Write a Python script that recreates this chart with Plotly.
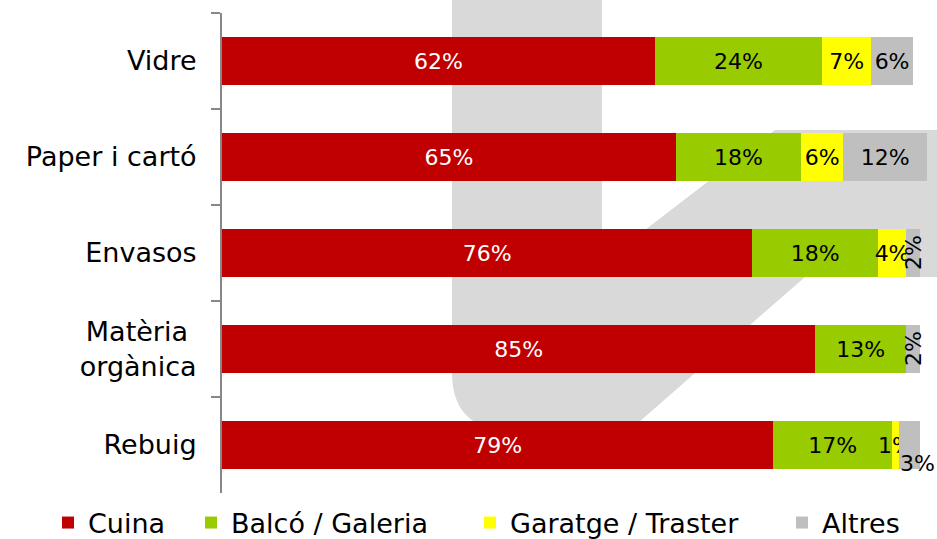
import plotly.graph_objects as go

categories = ["Vidre", "Paper i cartó", "Envasos", "Matèria <br>orgànica", "Rebuig"]
series_names = ["Cuina", "Balcó / Galeria", "Garatge / Traster", "Altres"]
cuina = [62, 65, 76, 85, 79]
balco = [24, 18, 18, 13, 17]
garatge = [7, 6, 4, 0, 1]
altres = [6, 12, 2, 2, 3]

colors = ["#C00000", "#99CC00", "#FFFF00", "#BFBFBF"]
text_colors = ["white", "black", "black", "black"]
series = [cuina, balco, garatge, altres]

FONT = "DejaVu Sans"

# Plot area in pixels
W, H = 937, 539
L, R, T, B = 222, 10, 13, 46
PW = W - L - R
PH = H - T - B

fig = go.Figure()

# labels that Excel moved/rotated are drawn as annotations
special = {(3, 2): "rot", (3, 3): "rot", (3, 4): "below"}

legend_ids = ["legend", "legend2", "legend3", "legend4"]
legend_text_x = [88, 231, 510, 822]  # left edge of legend text, px

for si, (name, vals) in enumerate(zip(series_names, series)):
    texts = []
    for ci, v in enumerate(vals):
        if v == 0 or (si, ci) in special:
            texts.append("")
        else:
            texts.append(f"{v}%")
    fig.add_trace(go.Bar(
        y=categories, x=vals, name=name, orientation="h",
        marker=dict(color=colors[si], line=dict(width=0)),
        text=texts, textposition="inside", insidetextanchor="middle",
        constraintext="none", textangle=0,
        textfont=dict(family=FONT, size=22, color=text_colors[si]),
        cliponaxis=False, width=0.5, legend=legend_ids[si],
    ))

annotations = []
for (si, ci), kind in special.items():
    start = sum(series[k][ci] for k in range(si))
    v = series[si][ci]
    xc = start + v / 2
    if kind == "rot":
        annotations.append(dict(x=xc, y=categories[ci], xref="x", yref="y",
                                text=f"{v}%", showarrow=False, textangle=-90,
                                font=dict(family=FONT, size=22, color="black")))
    else:
        annotations.append(dict(x=xc, y=categories[ci], xref="x", yref="y",
                                text=f"{v}%", showarrow=False, yshift=-18, xshift=8,
                                font=dict(family=FONT, size=22, color="black")))

# watermark background (decorative logo shape), defined in pixels
def px(x, y):
    return (x - L) / PW, (H - B - y) / PH

pts = [
    ("M", 452, -5), ("L", 602, -5), ("L", 602, 263), ("L", 775, 130),
    ("L", 945, 130), ("L", 945, 277), ("L", 805, 277), ("L", 630, 430),
    ("L", 510, 430),
]
path = ""
for cmd, x, y in pts:
    a, b = px(x, y)
    path += f"{cmd}{a:.4f},{b:.4f} "
qa, qb = px(452, 430)
ea, eb = px(452, 372)
path += f"Q{qa:.4f},{qb:.4f} {ea:.4f},{eb:.4f} Z"

shapes = [dict(type="path", xref="paper", yref="paper", path=path,
               fillcolor="#D9D9D9", line=dict(width=0), layer="below")]

legends = {}
for lid, tx in zip(legend_ids, legend_text_x):
    legends[lid] = dict(orientation="h", xref="container", yref="container",
                        x=(tx - 40) / W, xanchor="left", y=1 - 523 / H, yanchor="middle",
                        font=dict(family=FONT, size=27, color="black"),
                        bgcolor="rgba(0,0,0,0)", borderwidth=0, itemclick=False)

fig.update_layout(
    width=W, height=H,
    margin=dict(l=L, r=R, t=T, b=B, autoexpand=False),
    barmode="stack",
    bargap=0.5,
    paper_bgcolor="white",
    plot_bgcolor="rgba(0,0,0,0)",
    font=dict(family=FONT, color="black"),
    showlegend=True,
    xaxis=dict(range=[0, PW / 6.98], visible=False, showgrid=False, zeroline=False),
    yaxis=dict(autorange="reversed", showline=True, linecolor="#878787", linewidth=2,
               ticks="outside", tickson="boundaries", ticklen=9, tickwidth=2,
               tickcolor="#878787", showgrid=False, ticklabelstandoff=18,
               tickfont=dict(family=FONT, size=27, color="black")),
    shapes=shapes,
    annotations=annotations,
    **legends,
)

fig.write_html("out.html", config={"displayModeBar": False},
               post_script="document.body.style.margin='0';")
